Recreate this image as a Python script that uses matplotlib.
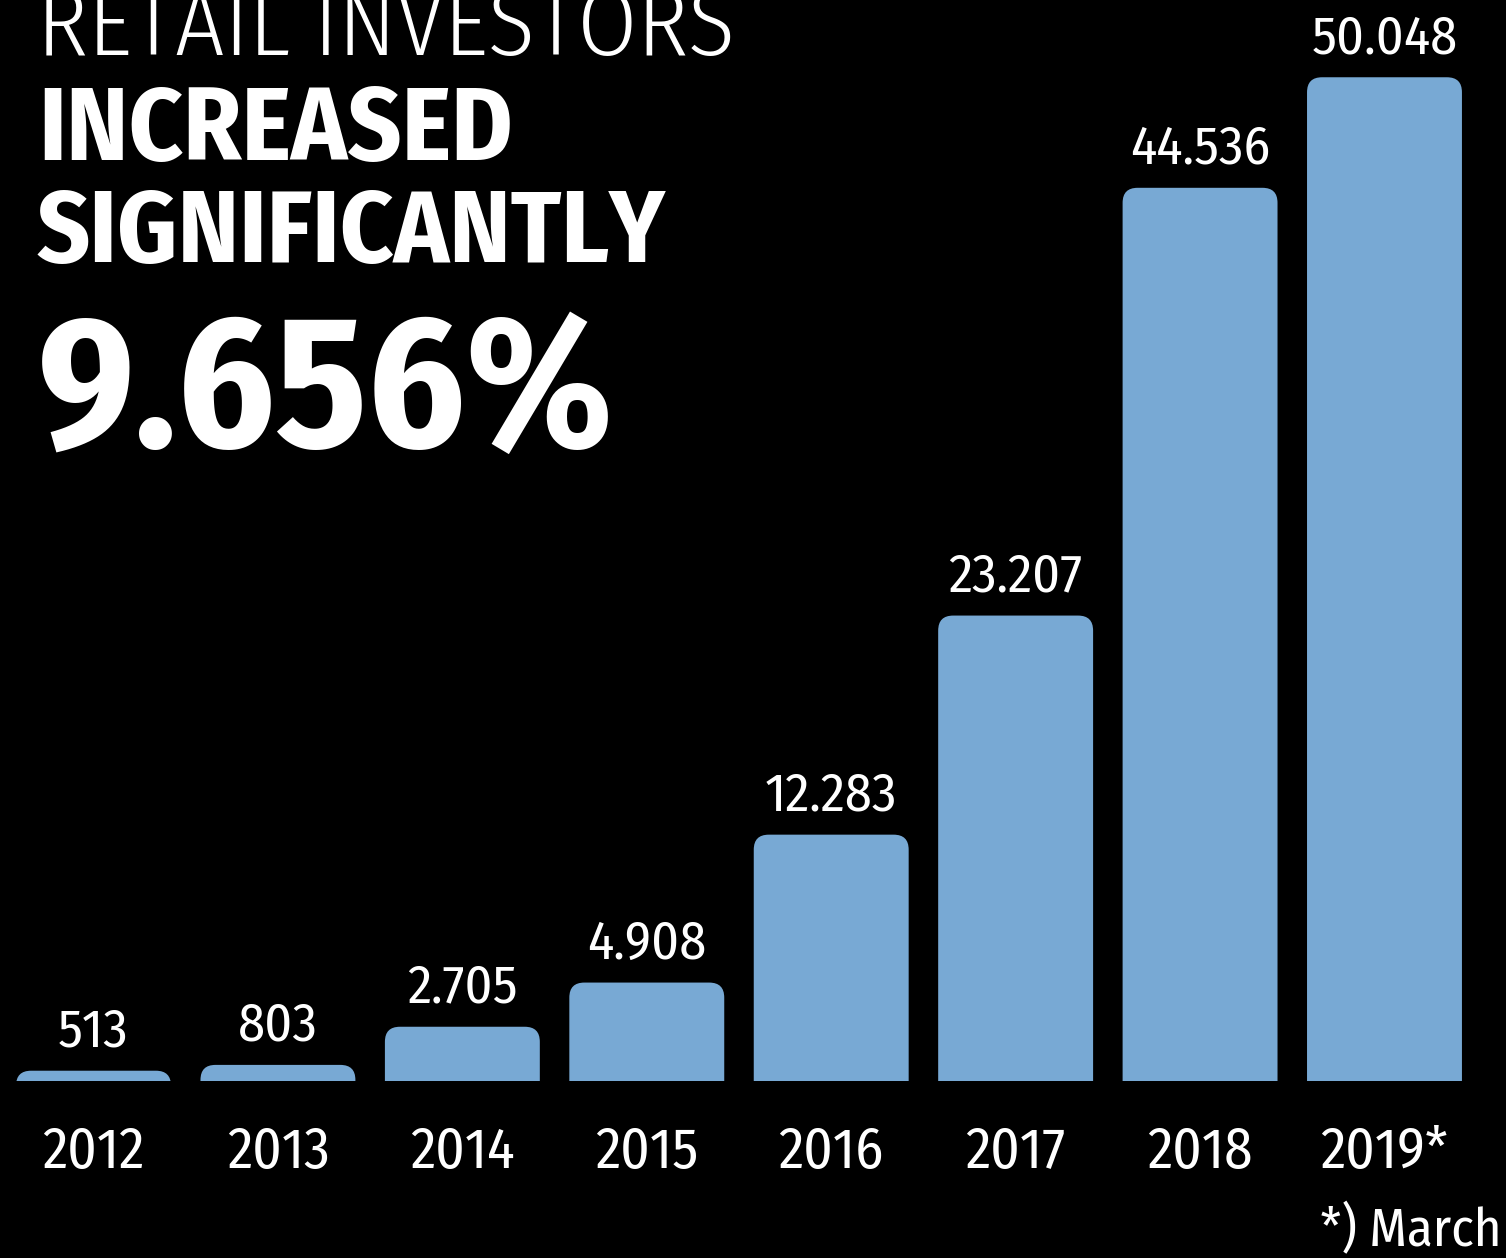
import matplotlib
matplotlib.use("Agg")
import matplotlib.pyplot as plt
from matplotlib.patches import FancyBboxPatch

years = ["2012", "2013", "2014", "2015", "2016", "2017", "2018", "2019*"]
investors = [513, 803, 2705, 4908, 12283, 23207, 44536, 50048]
headline_light = "RETAIL INVESTORS"
headline_bold = ["INCREASED", "SIGNIFICANTLY"]
growth = "9.656%"
footnote = "*) March"

bar_color = "#78a9d4"
font = ["Fira Sans Condensed", "DejaVu Sans"]

W, H = 1506, 1258
fig = plt.figure(figsize=(W / 100, H / 100), dpi=100, facecolor="black")

# axes box in pixels: left, baseline (from bottom), width, height
ax_left, ax_bottom, ax_w, ax_h = 1.3, 177, 1475.4, 1081
ax = fig.add_axes([ax_left / W, ax_bottom / H, ax_w / W, ax_h / H])
ax.set_facecolor("black")
ymax = 53900
ax.set_xlim(-0.5, len(years) - 0.5)
ax.set_ylim(0, ymax)

# data units per pixel, used for the rounded tops
ux = len(years) / ax_w
uy = ymax / ax_h
r_px = 15
rx, ry = r_px * ux, r_px * uy

bars = ax.bar(range(len(years)), investors, width=0.84, color=bar_color)
for rect in bars:
    x, w, h = rect.get_x(), rect.get_width(), rect.get_height()
    rect.set_visible(False)
    # extend below zero so only the top corners show after clipping
    ax.add_patch(FancyBboxPatch((x, -2 * ry), w, h + 2 * ry,
                                boxstyle=f"round,pad=0,rounding_size={rx}",
                                mutation_aspect=ry / rx,
                                fc=bar_color, ec="none", clip_on=True))

for i, v in enumerate(investors):
    ax.annotate(f"{v:,}".replace(",", "."), xy=(i, v), xytext=(0, 24),
                textcoords="offset pixels", ha="center", va="baseline",
                color="white", fontsize=39, family=font, weight="normal")

ax.set_xticks(range(len(years)), years)
ax.tick_params(axis="x", length=0, pad=62.5, labelsize=41, colors="white")
for lab in ax.get_xticklabels():
    lab.set_family(font)
    lab.set_va("baseline")
ax.set_yticks([])
for s in ax.spines.values():
    s.set_visible(False)

# headline block
fig.text(37 / W, 1 - 55 / H, headline_light, color="white", fontsize=69,
         family=font, weight=300, va="baseline", ha="left")
fig.text(38 / W, 1 - 160 / H, headline_bold[0], color="white", fontsize=75,
         family=font, weight="bold", va="baseline", ha="left")
fig.text(37 / W, 1 - 262 / H, headline_bold[1], color="white", fontsize=74,
         family=font, weight="bold", va="baseline", ha="left")
fig.text(38 / W, 1 - 447 / H, growth, color="white", fontsize=135,
         family=font, weight="bold", va="baseline", ha="left")

fig.text(1502 / W, 1 - 1246 / H, footnote, color="white", fontsize=38,
         family=font, weight="normal", va="baseline", ha="right")

fig.savefig("out.png", dpi=100, facecolor="black")
